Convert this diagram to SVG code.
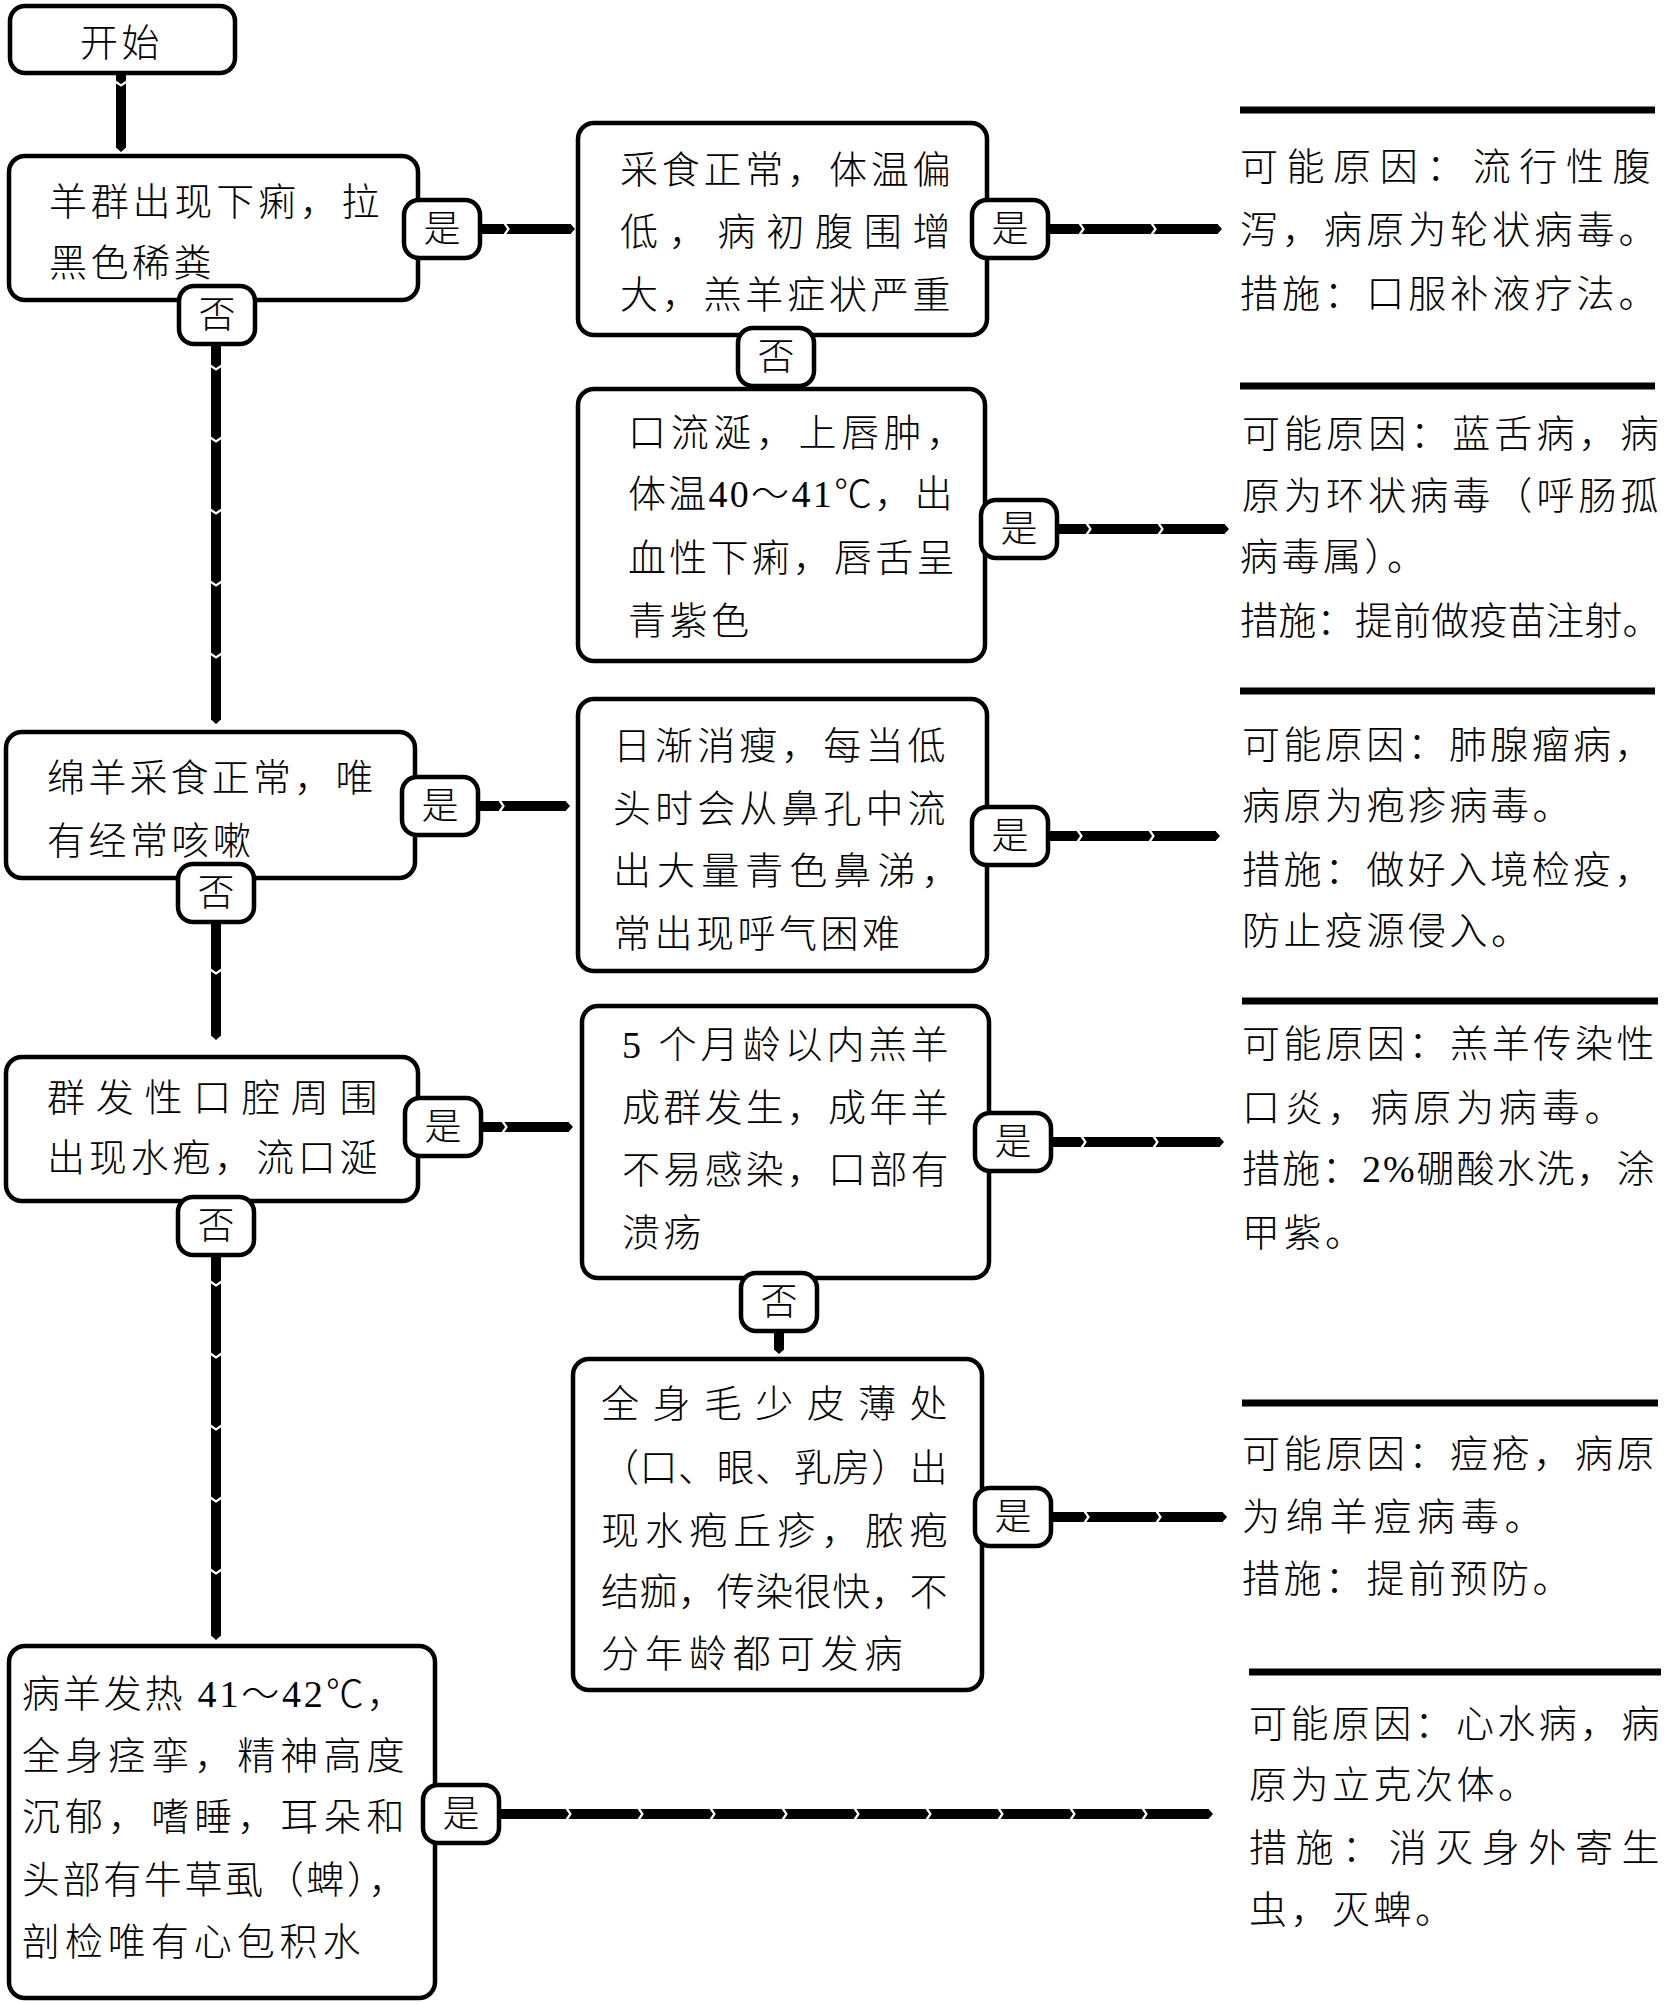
<svg xmlns="http://www.w3.org/2000/svg" width="1668" height="2004" viewBox="0 0 1668 2004">
<style>
.bg{fill:#fff}
.box{fill:#fff;stroke:#000;stroke-width:4.5}
.badge{fill:#fff;stroke:#000;stroke-width:4.5}
.t{font-family:"Liberation Serif","Noto Sans CJK SC",serif;font-size:38px;font-weight:300;fill:#000;letter-spacing:3.5px}
.bt{font-family:"Liberation Serif","Noto Sans CJK SC",serif;font-size:37px;font-weight:300;fill:#000;text-anchor:middle}
.wire{fill:none;stroke:#000;stroke-width:10;marker-mid:url(#chev);marker-end:url(#tip)}
.bar{stroke:#000;stroke-width:7}
</style>
<defs>
<marker id="chev" markerUnits="userSpaceOnUse" markerWidth="20" markerHeight="20" refX="0" refY="0" orient="auto" viewBox="-10 -10 20 20" overflow="visible">
<path d="M-3,-6.5 L1.5,0 L-3,6.5" fill="none" stroke="#fff" stroke-width="2.2"/>
</marker>
<marker id="tip" markerUnits="userSpaceOnUse" markerWidth="20" markerHeight="20" refX="0" refY="0" orient="auto" viewBox="-10 -10 20 20" overflow="visible">
<path d="M-0.5,-5 L4,0 L-0.5,5 Z" fill="#000"/>
</marker>
</defs>
<rect class="bg" x="0" y="0" width="1668" height="2004"/>

<g id="start">
<rect class="box" x="10" y="6" width="225" height="67" rx="15"/>
<text class="t" x="80" y="56">开始</text>
</g>

<g id="n1">
<rect class="box" x="9" y="156" width="409" height="144" rx="16"/>
<text class="t" x="49" y="215" textLength="334" lengthAdjust="spacing">羊群出现下痢，拉</text>
<text class="t" x="49" y="276">黑色稀粪</text>
</g>

<g id="n2">
<rect class="box" x="578" y="123" width="409" height="212" rx="16"/>
<text class="t" x="620" y="183" textLength="334" lengthAdjust="spacing">采食正常，体温偏</text>
<text class="t" x="620" y="245" textLength="334" lengthAdjust="spacing">低，病初腹围增</text>
<text class="t" x="620" y="308" textLength="334" lengthAdjust="spacing">大，羔羊症状严重</text>
</g>

<g id="n3">
<rect class="box" x="578" y="389" width="407" height="272" rx="16"/>
<text class="t" x="628" y="446" textLength="340" lengthAdjust="spacing">口流涎，上唇肿，</text>
<text class="t" x="628" y="507" textLength="328" lengthAdjust="spacing">体温40～41℃，出</text>
<text class="t" x="628" y="571" textLength="330" lengthAdjust="spacing">血性下痢，唇舌呈</text>
<text class="t" x="628" y="634">青紫色</text>
</g>

<g id="n4">
<rect class="box" x="6" y="732" width="409" height="146" rx="16"/>
<text class="t" x="47" y="791" textLength="330" lengthAdjust="spacing">绵羊采食正常，唯</text>
<text class="t" x="47" y="854">有经常咳嗽</text>
</g>

<g id="n5">
<rect class="box" x="578" y="699" width="409" height="272" rx="16"/>
<text class="t" x="613" y="759" textLength="336" lengthAdjust="spacing">日渐消瘦，每当低</text>
<text class="t" x="613" y="822" textLength="336" lengthAdjust="spacing">头时会从鼻孔中流</text>
<text class="t" x="613" y="884" textLength="350" lengthAdjust="spacing">出大量青色鼻涕，</text>
<text class="t" x="613" y="947">常出现呼气困难</text>
</g>

<g id="n6">
<rect class="box" x="6" y="1057" width="412" height="144" rx="16"/>
<text class="t" x="47" y="1111" textLength="334" lengthAdjust="spacing">群发性口腔周围</text>
<text class="t" x="47" y="1171" textLength="334" lengthAdjust="spacing">出现水疱，流口涎</text>
</g>

<g id="n7">
<rect class="box" x="582" y="1006" width="407" height="272" rx="16"/>
<text class="t" x="622" y="1058" textLength="330" lengthAdjust="spacing">5 个月龄以内羔羊</text>
<text class="t" x="622" y="1121" textLength="330" lengthAdjust="spacing">成群发生，成年羊</text>
<text class="t" x="622" y="1183" textLength="330" lengthAdjust="spacing">不易感染，口部有</text>
<text class="t" x="622" y="1246">溃疡</text>
</g>

<g id="n8">
<rect class="box" x="573" y="1359" width="409" height="331" rx="16"/>
<text class="t" x="601" y="1417" textLength="350" lengthAdjust="spacing">全身毛少皮薄处</text>
<text class="t" x="601" y="1481" textLength="350" lengthAdjust="spacing">（口、眼、乳房）出</text>
<text class="t" x="601" y="1544" textLength="350" lengthAdjust="spacing">现水疱丘疹，脓疱</text>
<text class="t" x="601" y="1605" textLength="350" lengthAdjust="spacing">结痂，传染很快，不</text>
<text class="t" x="601" y="1667" textLength="305" lengthAdjust="spacing">分年龄都可发病</text>
</g>

<g id="n9">
<rect class="box" x="9" y="1646" width="426" height="352" rx="16"/>
<text class="t" x="22" y="1707" textLength="386" lengthAdjust="spacing">病羊发热 41～42℃，</text>
<text class="t" x="22" y="1769" textLength="386" lengthAdjust="spacing">全身痉挛，精神高度</text>
<text class="t" x="22" y="1830" textLength="386" lengthAdjust="spacing">沉郁，嗜睡，耳朵和</text>
<text class="t" x="22" y="1893" textLength="388" lengthAdjust="spacing">头部有牛草虱（蜱），</text>
<text class="t" x="22" y="1955" textLength="342" lengthAdjust="spacing">剖检唯有心包积水</text>
</g>

<g id="r1">
<line class="bar" x1="1240" y1="110" x2="1655" y2="110"/>
<text class="t" x="1240" y="180" textLength="414" lengthAdjust="spacing">可能原因：流行性腹</text>
<text class="t" x="1240" y="243" textLength="420" lengthAdjust="spacing">泻，病原为轮状病毒。</text>
<text class="t" x="1240" y="307" textLength="420" lengthAdjust="spacing">措施：口服补液疗法。</text>
</g>

<g id="r2">
<line class="bar" x1="1240" y1="386" x2="1655" y2="386"/>
<text class="t" x="1242" y="447" textLength="420" lengthAdjust="spacing">可能原因：蓝舌病，病</text>
<text class="t" x="1242" y="509" textLength="420" lengthAdjust="spacing">原为环状病毒（呼肠孤</text>
<text class="t" x="1240" y="570">病毒属）。</text>
<text class="t" x="1240" y="634" textLength="424" lengthAdjust="spacing">措施：提前做疫苗注射。</text>
</g>

<g id="r3">
<line class="bar" x1="1240" y1="691" x2="1655" y2="691"/>
<text class="t" x="1242" y="758" textLength="414" lengthAdjust="spacing">可能原因：肺腺瘤病，</text>
<text class="t" x="1242" y="819">病原为疱疹病毒。</text>
<text class="t" x="1242" y="883" textLength="414" lengthAdjust="spacing">措施：做好入境检疫，</text>
<text class="t" x="1242" y="944">防止疫源侵入。</text>
</g>

<g id="r4">
<line class="bar" x1="1242" y1="1001" x2="1658" y2="1001"/>
<text class="t" x="1242" y="1057" textLength="416" lengthAdjust="spacing">可能原因：羔羊传染性</text>
<text class="t" x="1242" y="1121" textLength="384" lengthAdjust="spacing">口炎，病原为病毒。</text>
<text class="t" x="1242" y="1182" textLength="416" lengthAdjust="spacing">措施：2%硼酸水洗，涂</text>
<text class="t" x="1242" y="1246">甲紫。</text>
</g>

<g id="r5">
<line class="bar" x1="1242" y1="1403" x2="1658" y2="1403"/>
<text class="t" x="1242" y="1467" textLength="416" lengthAdjust="spacing">可能原因：痘疮，病原</text>
<text class="t" x="1242" y="1530" textLength="304" lengthAdjust="spacing">为绵羊痘病毒。</text>
<text class="t" x="1242" y="1592">措施：提前预防。</text>
</g>

<g id="r6">
<line class="bar" x1="1249" y1="1672" x2="1661" y2="1672"/>
<text class="t" x="1249" y="1737" textLength="414" lengthAdjust="spacing">可能原因：心水病，病</text>
<text class="t" x="1249" y="1798">原为立克次体。</text>
<text class="t" x="1249" y="1861" textLength="414" lengthAdjust="spacing">措施：消灭身外寄生</text>
<text class="t" x="1249" y="1923">虫，灭蜱。</text>
</g>

<g id="connectors">
<path class="wire" d="M121,74 V84 V148"/>
<path class="wire" d="M216,344 V368 V440 V512 V584 V656 V720"/>
<path class="wire" d="M216,922 V972 V1036"/>
<path class="wire" d="M216,1255 V1284 V1356 V1428 V1500 V1572 V1636"/>
<path class="wire" d="M779,1331 V1350"/>
<path class="wire" d="M480,229 H507 H571"/>
<path class="wire" d="M1048,229 H1082 H1154 H1218"/>
<path class="wire" d="M1057,529 H1089 H1161 H1225"/>
<path class="wire" d="M478,806 H502 H566"/>
<path class="wire" d="M1048,836 H1080 H1152 H1216"/>
<path class="wire" d="M481,1127 H505 H569"/>
<path class="wire" d="M1051,1142 H1084 H1156 H1220"/>
<path class="wire" d="M1051,1517 H1087 H1159 H1223"/>
<path class="wire" d="M499,1814 H569 H641 H713 H785 H857 H929 H1001 H1073 H1145 H1209"/>

<rect class="badge" x="404" y="200" width="76" height="58" rx="15"/>
<text class="bt" x="442" y="242">是</text>
<rect class="badge" x="179" y="286" width="76" height="58" rx="15"/>
<text class="bt" x="217" y="328">否</text>
<rect class="badge" x="972" y="200" width="76" height="58" rx="15"/>
<text class="bt" x="1010" y="242">是</text>
<rect class="badge" x="738" y="328" width="76" height="58" rx="15"/>
<text class="bt" x="776" y="370">否</text>
<rect class="badge" x="981" y="500" width="76" height="58" rx="15"/>
<text class="bt" x="1019" y="542">是</text>
<rect class="badge" x="402" y="777" width="76" height="58" rx="15"/>
<text class="bt" x="440" y="819">是</text>
<rect class="badge" x="178" y="864" width="76" height="58" rx="15"/>
<text class="bt" x="216" y="906">否</text>
<rect class="badge" x="972" y="807" width="76" height="58" rx="15"/>
<text class="bt" x="1010" y="849">是</text>
<rect class="badge" x="405" y="1098" width="76" height="58" rx="15"/>
<text class="bt" x="443" y="1140">是</text>
<rect class="badge" x="178" y="1197" width="76" height="58" rx="15"/>
<text class="bt" x="216" y="1239">否</text>
<rect class="badge" x="975" y="1113" width="76" height="58" rx="15"/>
<text class="bt" x="1013" y="1155">是</text>
<rect class="badge" x="741" y="1273" width="76" height="58" rx="15"/>
<text class="bt" x="779" y="1315">否</text>
<rect class="badge" x="975" y="1488" width="76" height="58" rx="15"/>
<text class="bt" x="1013" y="1530">是</text>
<rect class="badge" x="423" y="1785" width="76" height="58" rx="15"/>
<text class="bt" x="461" y="1827">是</text>
</g>
</svg>
